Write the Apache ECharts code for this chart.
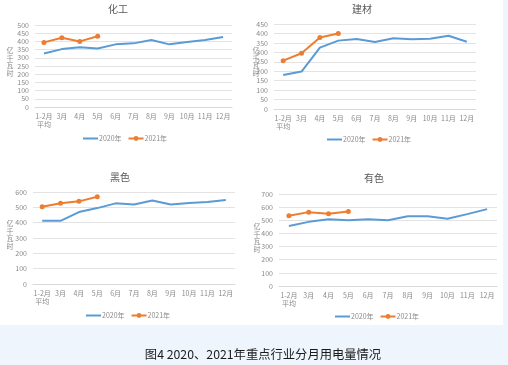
<!DOCTYPE html>
<html><head><meta charset="utf-8">
<script src="https://cdn.jsdelivr.net/npm/echarts@6/dist/echarts.min.js"></script>
<style>html,body{margin:0;padding:0;background:#eef5fc;}#c{width:508px;height:365px;}</style>
</head><body><div id="c"></div>
<script>
const categories = ['1-2月\n平均','3月','4月','5月','6月','7月','8月','9月','10月','11月','12月'];
const titles = ['化工','建材','黑色','有色'];
const seriesNames = ['2020年','2021年'];
const huagong2020 = [326,353,365,357,382,388,408,382,396,408,427];
const huagong2021 = [394,422,400,431];
const jiancai2020 = [180,198,325,362,371,355,374,369,372,388,356];
const jiancai2021 = [256,295,378,400];
const heise2020 = [412,412,469,495,526,519,545,519,528,535,548];
const heise2021 = [504,526,539,569];
const youse2020 = [457,488,508,501,508,501,531,531,511,547,585];
const youse2021 = [534,562,549,567];
const yMax = [500,450,600,700];
const yInterval = [50,50,100,100];
const caption = '图4 2020、2021年重点行业分月用电量情况';
const unitName = '亿\n千\n瓦\n时';

const data2020 = [huagong2020, jiancai2020, heise2020, youse2020];
const data2021 = [huagong2021, jiancai2021, heise2021, youse2021];

const grids = [
  {left:35, top:25, width:197, height:82},
  {left:274, top:24, width:202, height:85},
  {left:33, top:192, width:202, height:92},
  {left:279, top:194, width:218, height:92}
];
const titlePos = [{x:118,y:4},{x:362,y:4},{x:120,y:172},{x:374,y:173}];
const legendPos = [{x:82,y:139},{x:326,y:140},{x:85,y:316},{x:334,y:317}];
const namePos = [{x:10,y:62},{x:256,y:62},{x:10,y:235},{x:257,y:238}];

const font = '"Noto Sans CJK SC", sans-serif';
const labelColor = '#8a8a8a';
const blue = '#5b9bd5', orange = '#ed7d31';

const option = {
  backgroundColor: '#eef5fc',
  animation: false,
  textStyle: {fontFamily: font},
  graphic: [
    {type:'rect', shape:{x:0,y:0,width:503,height:325}, style:{fill:'#ffffff'}, z:-10}
  ].concat(namePos.map(p => ({
    type:'text', x:p.x, y:p.y, style:{text:unitName, font:'7px '+font, fill:labelColor, align:'center', verticalAlign:'middle', lineHeight:7.5}
  }))).concat([
    {type:'text', x:263, y:354, style:{text:caption, font:'12.3px '+font, fill:'#1a1a1a', align:'center', verticalAlign:'middle'}}
  ]),
  title: titles.map((t,i) => ({
    text:t, left:titlePos[i].x, top:titlePos[i].y, textAlign:'center', padding:0,
    textStyle:{fontSize:10, fontWeight:'normal', color:'#595959', fontFamily:font}
  })),
  legend: [0,1,2,3].map(i => ({
    data: [
      {name: seriesNames[0] + '\u200b'.repeat(i), itemStyle:{opacity:0}},
      {name: seriesNames[1] + '\u200b'.repeat(i)}
    ],
    left: legendPos[i].x, top: legendPos[i].y - 4, padding:0,
    formatter: n => n.replace(/\u200b/g,''),
    itemWidth: 15, itemHeight: 6, itemGap: 6,
    textStyle: {fontSize:7, color:'#8a8a8a', padding:[0,0,0,-4]}
  })),
  grid: grids,
  xAxis: grids.map((g,i) => ({
    type:'category', gridIndex:i, data:categories, boundaryGap:true,
    axisLine:{lineStyle:{color:'#d9d9d9'}}, axisTick:{show:false},
    axisLabel:{fontSize:7, color:labelColor, interval:0, margin:5, lineHeight:8}
  })),
  yAxis: grids.map((g,i) => ({
    type:'value', gridIndex:i, min:0, max:yMax[i], interval:yInterval[i],
    axisLine:{show:false}, axisTick:{show:false},
    splitLine:{lineStyle:{color:'#e3e3e3'}},
    axisLabel:{fontSize:7, color:labelColor, margin:6}
  })),
  series: []
};
for (let i=0;i<4;i++){
  option.series.push({
    name: seriesNames[0] + '\u200b'.repeat(i), type:'line', xAxisIndex:i, yAxisIndex:i,
    data: data2020[i], symbol:'none', lineStyle:{color:blue, width:2}, itemStyle:{color:blue}
  });
  option.series.push({
    name: seriesNames[1] + '\u200b'.repeat(i), type:'line', xAxisIndex:i, yAxisIndex:i,
    data: data2021[i], symbol:'circle', symbolSize:5, lineStyle:{color:orange, width:2}, itemStyle:{color:orange}
  });
}
echarts.init(document.getElementById('c')).setOption(option);
</script></body></html>
